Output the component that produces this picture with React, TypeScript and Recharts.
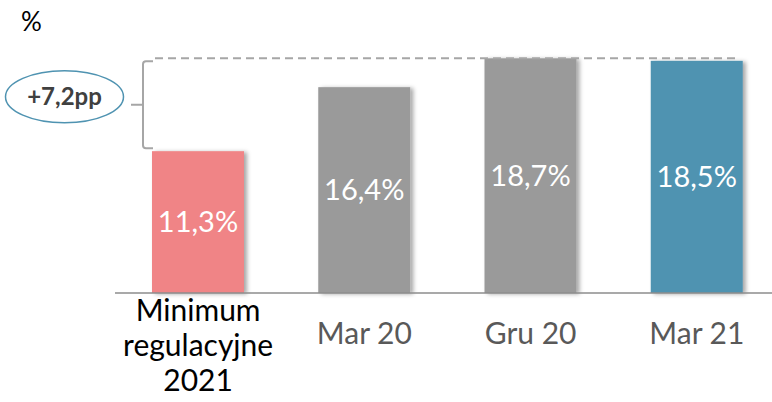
import { Bar, BarChart, Cell, LabelList, ReferenceArea, ReferenceLine, XAxis, YAxis } from "recharts";

const categories = ["Minimum\nregulacyjne\n2021", "Mar 20", "Gru 20", "Mar 21"];
const values = [11.3, 16.4, 18.7, 18.5];
const colors = ["#f08486", "#9a9a9a", "#9a9a9a", "#4f93b1"];
const tickColors = ["#000000", "#595959", "#595959", "#595959"];
const gapFrom = 11.3;
const gapTo = 18.7;
const gapLabel = "+7,2pp";

const data = categories.map((name, i) => ({ name, value: values[i] }));
const FONT = "Lato, 'Open Sans', sans-serif";

const pct = (v: number) => v.toFixed(1).replace(".", ",") + "%";

function Tick(props: any) {
  const { x, y, payload, index } = props;
  const lines = String(payload.value).split("\n");
  const fs = 30;
  const first = y + 32 - (lines.length - 1) * 11.5;
  return (
    <text x={x} textAnchor="middle" fontSize={fs} fontFamily={FONT} fill={tickColors[index] ?? "#595959"}>
      {lines.map((l, i) => (
        <tspan key={i} x={x} y={first + i * 35 + fs * 0.35}>
          {l}
        </tspan>
      ))}
    </text>
  );
}

function BarShape(props: any) {
  const { x, y, width, height, fill } = props;
  return <rect x={x} y={y} width={width} height={height} fill={fill} filter="url(#barShadow)" />;
}

function DashLine(props: any) {
  const { x1, x2, y1 } = props;
  return <line x1={x1 + 40} x2={x2 - 43} y1={y1} y2={y1} stroke="#a6a6a6" strokeWidth={2} strokeDasharray="8 5" />;
}

function Bracket(props: any) {
  const { x, y, height } = props;
  const bx = x + 28;
  const top = y + 3;
  const bot = y + height - 3;
  const mid = (top + bot) / 2;
  const d = `M ${bx + 10} ${top} L ${bx + 3} ${top} Q ${bx} ${top} ${bx} ${top + 3} L ${bx} ${bot - 3} Q ${bx} ${bot} ${bx + 3} ${bot} L ${bx + 10} ${bot} M ${bx - 12} ${mid} L ${bx} ${mid}`;
  return (
    <g>
      <path d={d} fill="none" stroke="#a6a6a6" strokeWidth={2} />
      <ellipse cx={x - 50.5} cy={mid - 8} rx={59} ry={26} fill="#ffffff" stroke="#4f93b1" strokeWidth={1.5} />
      <text x={x - 50.5} y={mid - 8 + 24 * 0.35} textAnchor="middle" fontSize={24} fontWeight={700} fontFamily={FONT} fill="#404040">
        {gapLabel}
      </text>
    </g>
  );
}

export default function App() {
  return (
    <div style={{ position: "absolute", left: 0, top: 0, width: 772, height: 402, overflow: "hidden", background: "#fff" }}>
      <div style={{ position: "absolute", left: 21, top: 5, fontSize: 26, fontFamily: FONT, color: "#000" }}>%</div>
      <BarChart width={780} height={402} data={data} margin={{ top: 42, right: 0, left: 115, bottom: 0 }} barCategoryGap={0}>
        <defs>
          <filter id="barShadow" x="-10%" y="-5%" width="130%" height="115%">
            <feDropShadow dx={3} dy={1} stdDeviation={2} floodColor="#000" floodOpacity={0.35} />
          </filter>
        </defs>
        <YAxis hide domain={[0, 20]} />
        <XAxis
          dataKey="name"
          interval={0}
          height={109}
          tickLine={false}
          axisLine={{ stroke: "#8c8c8c", strokeWidth: 1.5 }}
          tick={<Tick />}
        />
        <ReferenceLine y={gapTo} shape={<DashLine />} ifOverflow="visible" />
        <ReferenceArea y1={gapFrom} y2={gapTo} shape={<Bracket />} ifOverflow="visible" />
        <Bar dataKey="value" barSize={92} isAnimationActive={false} shape={<BarShape />}>
          {data.map((_, i) => (
            <Cell key={i} fill={colors[i]} />
          ))}
          <LabelList dataKey="value" position="center" formatter={(v: any) => pct(Number(v))} fill="#ffffff" fontSize={29} fontFamily={FONT} />
        </Bar>
      </BarChart>
    </div>
  );
}
